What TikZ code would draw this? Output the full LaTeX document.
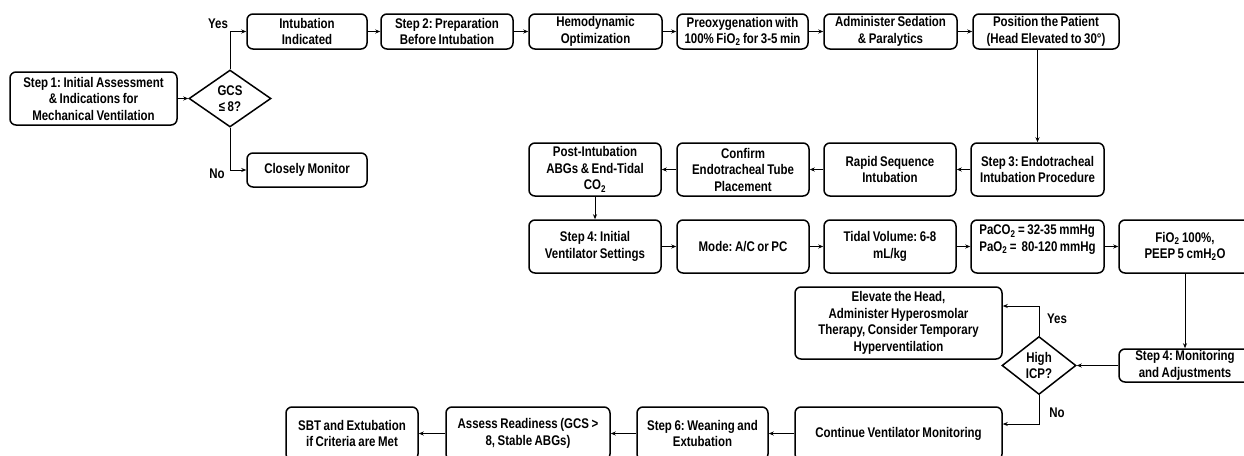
\documentclass[tikz,border=0pt]{standalone}
\usepackage{fontspec}
\setmainfont{Liberation Sans}[FakeStretch=0.82,WordSpace=0.8]
\frenchspacing
\usetikzlibrary{shapes.geometric,arrows.meta}

\begin{document}
\begin{tikzpicture}
    [x=1pt,y=-1pt,
     font=\fontsize{14}{16.5}\selectfont\bfseries,
     box/.style={draw,rounded corners=6pt,line width=1.5pt,align=center,inner sep=1pt,minimum height=53pt},
     dec/.style={draw,diamond,line width=1.5pt,align=center,inner sep=0pt,aspect=1.4},
     >={Stealth[length=5pt,width=4pt]},line width=1pt]
    \useasboundingbox (0,0) rectangle (1244,455);
    % step 1 and the GCS check
    \node (step1) at (93.5,98.5) [box,minimum width=167pt] {Step 1: Initial Assessment\\\& Indications for\\Mechanical Ventilation};
    \node (gcs) at (230,98.5) [dec,minimum width=82pt,minimum height=57pt] {GCS\\≤ 8?};
    \node (yes1) at (218,24) {Yes};
    \node (no1) at (217,174) {No};
    \node (closely) at (307,170) [box,minimum width=120pt,minimum height=34pt] {Closely Monitor};
    % top row
    \node (intub) at (307,31.5) [box,minimum width=120pt,minimum height=35pt] {Intubation\\Indicated};
    \node (prep) at (447,31.5) [box,minimum width=132pt,minimum height=35pt] {Step 2: Preparation\\Before Intubation};
    \node (hemo) at (595.5,31.5) [box,minimum width=133pt,minimum height=35pt] {Hemodynamic\\Optimization};
    \node (preox) at (742.5,31.5) [box,minimum width=131pt,minimum height=35pt] {Preoxygenation with\\100\% FiO\textsubscript{2} for 3-5 min};
    \node (sedate) at (890.5,31.5) [box,minimum width=133pt,minimum height=35pt] {Administer Sedation\\\& Paralytics};
    \node (position) at (1046,31.5) [box,minimum width=146pt,minimum height=35pt] {Position the Patient\\(Head Elevated to 30°)};
    % step 3 row
    \node (step3) at (1037.5,169.5) [box,minimum width=133pt] {Step 3: Endotracheal\\Intubation Procedure};
    \node (rsi) at (890,169.5) [box,minimum width=132pt] {Rapid Sequence\\Intubation};
    \node (confirm) at (743,169.5) [box,minimum width=132pt] {Confirm\\Endotracheal Tube\\Placement};
    \node (postint) at (595,169.5) [box,minimum width=132pt] {Post-Intubation\\ABGs \& End-Tidal\\CO\textsubscript{2}};
    % ventilator settings row
    \node (step4) at (595,246.5) [box,minimum width=132pt] {Step 4: Initial\\Ventilator Settings};
    \node (mode) at (743,246.5) [box,minimum width=132pt] {Mode: A/C or PC};
    \node (tidal) at (890,246.5) [box,minimum width=132pt] {Tidal Volume: 6-8\\mL/kg};
    \node (gases) at (1037.5,246.5) [box,minimum width=133pt,align=left] {PaCO\textsubscript{2} = 32-35 mmHg\\PaO\textsubscript{2} =~~80-120 mmHg\\\mbox{}};
    \node (fio2) at (1185,246.5) [box,minimum width=132pt] {FiO\textsubscript{2} 100\%,\\PEEP 5 cmH\textsubscript{2}O};
    % monitoring and ICP check
    \node (monitor) at (1185,365.5) [box,minimum width=132pt,minimum height=33pt] {Step 4: Monitoring\\and Adjustments};
    \node (icp) at (1039,365.5) [dec,minimum width=74pt,minimum height=58pt] {High\\ICP?};
    \node (yes2) at (1057,319) {Yes};
    \node (no2) at (1057,413) {No};
    \node (elevate) at (898.5,323) [box,minimum width=207pt,minimum height=72pt] {Elevate the Head,\\Administer Hyperosmolar\\Therapy, Consider Temporary\\Hyperventilation};
    % weaning row
    \node (contvent) at (898.5,433.5) [box,minimum width=207pt] {Continue Ventilator Monitoring};
    \node (wean) at (702.5,433.5) [box,minimum width=131pt] {Step 6: Weaning and\\Extubation};
    \node (assess) at (528,433.5) [box,minimum width=164pt] {Assess Readiness (GCS >\\8, Stable ABGs)};
    \node (sbt) at (352,433.5) [box,minimum width=132pt] {SBT and Extubation\\if Criteria are Met};
    \draw [->] (step1) to (gcs);
    \draw [->] (gcs.north) |- (intub);
    \draw [->] (gcs.south) |- (closely);
    \draw [->] (intub) to (prep);
    \draw [->] (prep) to (hemo);
    \draw [->] (hemo) to (preox);
    \draw [->] (preox) to (sedate);
    \draw [->] (sedate) to (position);
    \draw [->] (position.south -| step3.north) to (step3);
    \draw [->] (step3) to (rsi);
    \draw [->] (rsi) to (confirm);
    \draw [->] (confirm) to (postint);
    \draw [->] (postint) to (step4);
    \draw [->] (step4) to (mode);
    \draw [->] (mode) to (tidal);
    \draw [->] (tidal) to (gases);
    \draw [->] (gases) to (fio2);
    \draw [->] (fio2) to (monitor);
    \draw [->] (monitor) to (icp);
    \draw [->] (icp.north) |- ([yshift=17pt]elevate.east);
    \draw [->] (icp.south) |- ([yshift=9.5pt]contvent.east);
    \draw [->] (contvent) to (wean);
    \draw [->] (wean) to (assess);
    \draw [->] (assess) to (sbt);
\end{tikzpicture}
\end{document}
